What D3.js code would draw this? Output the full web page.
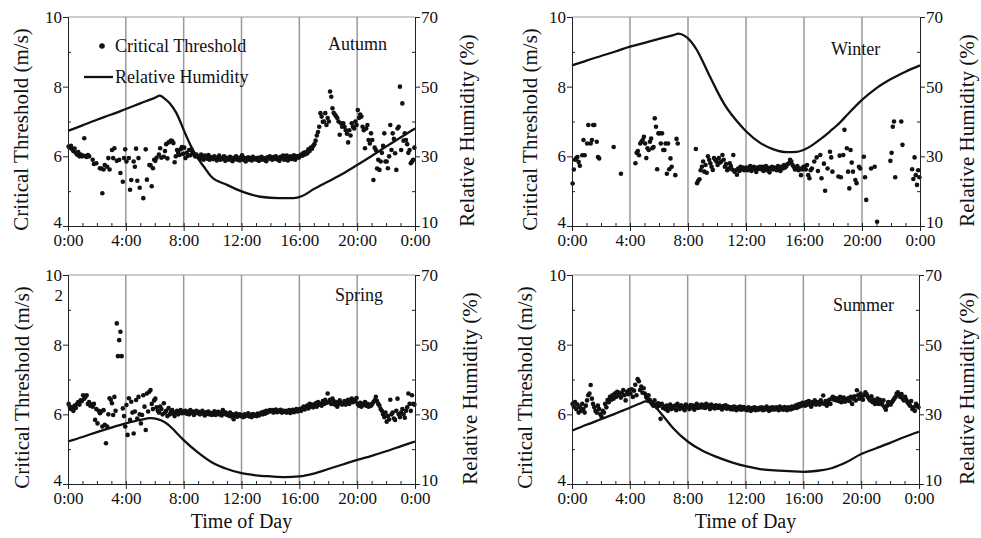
<!DOCTYPE html>
<html>
<head>
<meta charset="utf-8">
<script src="https://cdn.jsdelivr.net/npm/d3@7"></script>
<style>
body { margin: 0; background: #fff; }
svg text { font-family: "Liberation Serif", "Times New Roman", serif; fill: #111; }
</style>
</head>
<body>
<div id="chart"></div>
<script>
var width = 981,
  height = 538;

// critical threshold (m/s): one row per hour, values spread evenly over the hour, null = no sample
var autumnCT = [
  [6.28, 6.25, 6.3, 6.2, 6.15, 6.22, 6.1, 6.05, 6.12, 6.0, 6.05, 6.0],
  [6.02, 6.52, 6.0, 5.98, 6.04, 6.0, null, null, 5.9, 5.78, null, 5.8],
  [null, null, 5.66, 5.65, 4.94, 5.62, 5.75, null, 5.7, 5.95, 5.62, null],
  [6.18, 5.95, 6.23, null, 5.87, null, 5.9, 5.52, null, 5.27, 5.95, 6.2],
  [5.85, null, 5.95, 5.04, 5.32, null, 5.85, 5.7, 6.22, 5.3, 5.95, 5.1],
  [null, null, 4.8, null, 6.2, 5.33, null, 5.75, 5.74, 5.14, 5.66, 5.9],
  [5.87, 5.96, null, 6.05, 6.23, 5.96, null, 5.99, 6.15, 6.35, 5.94, 6.4],
  [6.42, 6.45, 6.44, 6.38, 5.83, 6.0, 6.18, 6.1, 6.04, 6.2, 6.27, 6.07],
  [6.25, 5.95, 6.1, 6.02, 6.18, 6.03, 6.2, 6.12, 6.07, 6.0, 6.05, 5.99],
  [6.0, 5.92, 6.05, 5.95, 5.9, 6.02, 5.97, 5.93, 6.04, 5.9, 5.98, 5.95],
  [5.92, 6.0, 5.95, 5.88, 5.97, 6.02, 5.9, 5.95, 5.93, 6.0, 5.87, 5.96],
  [5.94, 5.9, 5.99, 5.93, 5.86, 5.96, 5.92, 6.0, 5.9, 5.95, 5.88, 5.97],
  [6.03, 5.9, 5.95, 5.85, 5.93, 5.97, 5.9, 5.95, 5.88, 5.99, 5.92, 5.94],
  [5.9, 5.96, 5.87, 5.94, 5.99, 5.9, 5.95, 5.92, 5.86, 5.97, 5.93, 6.0],
  [5.94, 5.9, 5.98, 5.93, 6.0, 5.91, 5.96, 5.87, 5.99, 5.94, 6.02, 5.9],
  [5.97, 6.02, 5.88, 5.95, 6.0, 5.92, 5.97, 6.03, 5.9, 5.98, 6.01, 5.96],
  [6.0, 6.05, 6.02, 6.1, 6.05, 6.12, 6.08, 6.2, 6.15, 6.25, 6.22, 6.3],
  [6.35, 6.45, 6.6, 6.7, 6.85, 7.24, 7.14, 6.99, 7.0, 7.24, 6.9, 7.1],
  [7.0, 7.86, 7.71, 7.38, 7.25, 7.2, 7.15, 7.1, 7.0, 6.62, 6.95, 6.85],
  [6.95, 6.85, 6.75, 6.65, 6.4, 6.75, 6.6, 6.95, 6.85, 6.8, 7.0, 6.9],
  [7.33, 7.1, 7.2, 7.14, 6.85, 6.75, 6.23, 6.8, 6.9, 6.47, 6.37, 6.66],
  [6.47, 5.32, 6.25, 6.18, 5.65, 5.9, 5.61, 5.85, 6.1, 6.3, 6.66, 5.85],
  [5.85, 5.66, 6.0, 6.9, 6.18, 6.66, 6.5, 6.09, 5.61, 6.8, 6.85, 8.0],
  [6.18, 7.52, 6.45, 6.66, 6.47, 6.35, 6.1, 6.18, 5.8, 5.85, 5.9, 6.25]
];

var winterCT = [
  [5.22, 5.62, 5.9, 5.95, 5.98, 5.84, 5.73, null, 6.03, 6.47, 6.03, null],
  [6.37, 6.9, null, 6.37, 6.47, 6.9, 6.9, null, 6.42, 5.98, 5.94, null],
  [null, null, null, null, null, null, null, null, null, null, 6.27, null],
  [null, null, null, null, 5.5, null, null, null, null, null, null, null],
  [null, null, null, null, 5.8, 6.1, 6.15, 6.03, 6.37, 6.42, 6.47, 6.56],
  [6.37, 5.95, 6.23, 6.18, 6.42, 6.51, 6.23, 6.27, 7.09, 6.85, 5.63, 6.66],
  [6.66, 6.37, 6.66, 6.18, 6.18, 6.37, 5.5, 6.37, 5.63, 5.94, 5.7, null],
  [null, 5.46, 6.5, 6.37, null, null, null, null, null, null, null, null],
  [null, null, null, null, null, null, 6.21, 5.23, 5.3, 5.34, 5.6, 5.7],
  [5.85, 5.56, 5.75, 5.53, 6.0, 5.9, 5.8, 5.7, 5.61, 5.95, 5.9, 5.85],
  [5.75, 5.95, 5.82, 5.85, 6.04, 5.9, 5.7, 5.78, 5.6, 5.65, 5.8, 5.72],
  [5.62, 6.04, 5.56, 5.6, 5.47, 5.65, 5.58, 5.7, 5.62, 5.68, 5.6, 5.66],
  [5.68, 5.6, 5.66, 5.72, 5.58, 5.65, 5.7, 5.62, 5.55, 5.68, 5.64, 5.7],
  [5.63, 5.7, 5.58, 5.66, 5.72, 5.6, 5.67, 5.54, 5.65, 5.7, 5.62, 5.68],
  [5.66, 5.6, 5.72, 5.64, 5.58, 5.7, 5.65, 5.75, 5.68, 5.72, 5.78, 5.8],
  [5.9, 5.85, 5.75, 5.7, 5.62, 5.68, 5.72, 5.6, 5.65, 5.46, 5.62, 5.7],
  [5.7, 5.62, 5.75, 5.46, 5.37, 5.6, 5.65, null, 5.85, null, 5.97, 5.58],
  [null, 6.04, 5.37, null, 5.79, 5.01, null, 5.65, null, 6.13, 5.97, 5.56],
  [null, null, null, null, 5.42, 6.02, 5.4, null, 6.04, 6.76, null, 6.23],
  [5.56, 5.08, 6.18, 5.82, 5.56, null, 5.32, 5.23, null, 5.7, 5.65, null],
  [null, 5.99, 5.4, 4.75, null, null, null, 5.65, null, null, 5.7, null],
  [4.12, null, null, null, null, null, null, null, null, null, null, 5.87],
  [6.1, 6.85, 7.0, 5.4, null, null, null, null, 7.0, 6.33, null, null],
  [null, null, null, null, null, 5.63, 5.35, 5.97, 5.46, 5.18, 5.6, 5.4]
];

var springCT = [
  [6.3, 6.22, 6.15, 6.2, 6.1, 6.25, 6.18, 6.3, 6.35, 6.28, 6.4, 6.38],
  [6.55, 6.45, 6.5, 6.55, 6.3, 6.35, 6.25, 6.28, 6.22, 6.3, 5.84, 6.15],
  [5.74, 6.1, 6.03, 6.08, 5.65, 6.12, 5.7, 5.17, 5.65, 6.0, 6.46, 6.42],
  [6.32, 5.98, 6.5, 6.1, 8.61, 7.67, 8.13, 8.37, 7.67, 6.17, 5.95, 5.65],
  [6.27, 5.41, 6.46, 5.84, 6.36, 6.05, 5.45, 6.08, 6.41, 5.88, 6.5, 6.0],
  [5.74, 5.98, 6.55, 6.22, 5.55, 6.6, 6.08, 6.65, 6.7, 6.3, 6.15, 6.4],
  [6.45, 6.2, 6.1, 6.05, 6.22, 6.15, 6.0, 6.32, 6.05, 6.1, 5.95, 6.18],
  [6.0, 6.08, 6.12, 6.02, 5.95, 6.05, 6.1, 6.0, 6.06, 6.12, 6.03, 6.08],
  [6.05, 6.1, 6.02, 6.07, 6.0, 6.12, 6.04, 6.08, 5.98, 6.06, 6.1, 6.03],
  [6.07, 6.0, 6.04, 6.1, 6.02, 5.97, 6.06, 6.01, 6.08, 6.0, 6.04, 5.98],
  [6.03, 6.09, 5.98, 6.02, 6.07, 6.0, 6.05, 5.97, 6.12, 6.02, 6.06, 5.99],
  [6.02, 5.96, 6.05, 5.94, 6.0, 5.86, 5.96, 6.02, 5.93, 5.98, 6.0, 5.95],
  [5.97, 5.92, 6.0, 5.95, 5.98, 6.03, 5.94, 5.99, 5.92, 6.01, 5.96, 5.99],
  [5.95, 6.02, 5.97, 6.0, 6.05, 6.0, 6.07, 6.02, 6.1, 6.05, 6.08, 6.12],
  [6.08, 6.12, 6.05, 6.1, 6.14, 6.06, 6.11, 6.08, 6.13, 6.05, 6.1, 6.07],
  [6.1, 6.05, 6.08, 6.12, 6.04, 6.09, 6.13, 6.06, 6.1, 6.15, 6.08, 6.12],
  [6.15, 6.1, 6.18, 6.22, 6.14, 6.2, 6.25, 6.17, 6.3, 6.22, 6.28, 6.2],
  [6.25, 6.32, 6.22, 6.35, 6.28, 6.3, 6.25, 6.38, 6.3, 6.42, 6.33, 6.6],
  [6.35, 6.42, 6.3, 6.45, 6.38, 6.28, 6.35, 6.22, 6.3, 6.4, 6.33, 6.28],
  [6.32, 6.38, 6.28, 6.35, 6.42, 6.3, 6.4, 6.45, 6.35, 6.42, 6.38, 6.47],
  [6.3, 6.25, 6.33, 6.22, 6.3, 6.27, 6.35, 6.25, 6.3, 6.22, 6.28, 6.25],
  [6.3, 6.35, 6.4, 6.5, 6.38, 6.3, 6.25, 6.15, 6.1, 6.0, 5.92, 6.05],
  [5.79, 5.95, 5.85, 6.42, 6.0, 6.05, 5.88, 5.84, 6.1, 6.45, 6.0, 5.92],
  [6.05, 6.15, 6.0, 5.9, 6.1, 6.2, 6.6, 6.3, 6.1, 6.55, 6.3, 6.28]
];

var summerCT = [
  [6.3, 6.22, 6.35, 6.15, 6.28, 6.05, 6.2, 6.1, 6.3, 6.15, 6.05, 6.25],
  [6.4, 6.55, 6.6, 6.84, 6.45, 6.3, 6.2, 6.1, 6.05, 6.25, 6.15, 6.0],
  [5.93, 6.1, 6.05, 6.3, 6.2, 6.41, 6.35, 6.5, 6.42, 6.55, 6.45, 6.6],
  [6.5, 6.65, 6.55, 6.62, 6.48, 6.6, 6.7, 6.55, 6.4, 6.65, 6.58, 6.7],
  [6.6, 6.72, 6.5, 6.68, 6.85, 6.55, 7.01, 6.95, 6.7, 6.8, 6.62, 6.75],
  [6.6, 6.5, 6.45, 6.55, 6.42, 6.35, 6.3, 6.25, 6.4, 6.28, 6.2, 6.32],
  [6.25, 5.87, 6.3, 6.18, 6.22, 6.15, 6.25, 6.1, 6.2, 6.28, 6.15, 6.22],
  [6.18, 6.25, 6.12, 6.3, 6.2, 6.15, 6.26, 6.18, 6.22, 6.12, 6.28, 6.2],
  [6.22, 6.15, 6.27, 6.2, 6.25, 6.13, 6.24, 6.3, 6.18, 6.25, 6.2, 6.28],
  [6.2, 6.27, 6.18, 6.3, 6.22, 6.25, 6.15, 6.28, 6.2, 6.24, 6.17, 6.26],
  [6.22, 6.18, 6.25, 6.2, 6.14, 6.24, 6.19, 6.26, 6.16, 6.22, 6.2, 6.15],
  [6.2, 6.14, 6.22, 6.17, 6.12, 6.2, 6.15, 6.22, 6.13, 6.18, 6.21, 6.14],
  [6.17, 6.12, 6.2, 6.15, 6.1, 6.18, 6.14, 6.2, 6.12, 6.17, 6.13, 6.19],
  [6.15, 6.2, 6.12, 6.18, 6.14, 6.22, 6.16, 6.1, 6.19, 6.13, 6.2, 6.15],
  [6.14, 6.2, 6.16, 6.12, 6.22, 6.15, 6.19, 6.13, 6.21, 6.16, 6.12, 6.2],
  [6.18, 6.14, 6.22, 6.17, 6.2, 6.25, 6.18, 6.28, 6.22, 6.3, 6.25, 6.33],
  [6.3, 6.25, 6.35, 6.28, 6.38, 6.3, 6.22, 6.35, 6.3, 6.4, 6.28, 6.33],
  [6.35, 6.28, 6.4, 6.32, 6.54, 6.3, 6.38, 6.25, 6.35, 6.42, 6.3, 6.45],
  [6.5, 6.42, 6.47, 6.4, 6.45, 6.38, 6.5, 6.35, 6.42, 6.48, 6.36, 6.44],
  [6.4, 6.47, 6.38, 6.5, 6.3, 6.45, 6.52, 6.4, 6.69, 6.55, 6.45, 6.6],
  [6.5, 6.42, 6.55, 6.63, 6.58, 6.5, 6.45, 6.4, 6.52, 6.35, 6.42, 6.3],
  [6.38, 6.45, 6.3, 6.42, 6.35, 6.28, 6.4, 6.2, 6.13, 6.25, 6.35, 6.3],
  [6.28, 6.35, 6.4, 6.45, 6.5, 6.6, 6.63, 6.55, 6.5, 6.58, 6.45, 6.4],
  [6.5, 6.42, 6.35, 6.3, 6.25, 6.38, 6.15, 6.2, 6.1, 6.3, 6.25, 6.2]
];

// relative humidity (%): [hour, value]
var autumnRH = [[0,37.3],[1,38.9],[2,40.5],[3,42.0],[4,43.6],[5,45.2],[6,46.8],[6.35,47.4],[6.7,46.5],[7.05,45.2],[7.5,42.4],[8.1,36.6],[8.7,31.3],[9.4,27.0],[9.9,24.2],[11,21.8],[12.1,19.8],[13.3,18.4],[14.6,18.0],[15.6,18.0],[16.2,18.6],[17,20.6],[18,22.8],[19,25.0],[20,27.5],[21,30.1],[22,32.8],[23,35.4],[24,38.0]];
var winterRH = [[0,56.1],[1,57.5],[2,58.8],[3,60.1],[4,61.5],[5,62.6],[6,63.7],[7,64.8],[7.35,65.2],[7.8,64.5],[8.2,63.0],[8.6,60.6],[9,57.4],[9.5,53.0],[10,48.8],[10.5,45.0],[11,42.0],[11.6,39.0],[12,37.2],[13,33.8],[13.9,32.0],[14.8,31.2],[15.5,31.3],[16,31.9],[16.5,33.0],[17,34.5],[17.8,37.2],[18.5,39.8],[19,42.0],[20,46.2],[21,49.6],[22,52.2],[23,54.3],[24,56.1]];
var springRH = [[0,22.2],[1,23.5],[2,24.9],[3,26.2],[4,27.4],[5,28.4],[5.7,28.9],[6.2,28.6],[6.7,27.7],[7.2,26.0],[7.6,24.3],[8,22.6],[9,19.0],[10,16.1],[11,14.3],[12,13.1],[13,12.5],[14,12.2],[15,12.0],[16,12.2],[17,13.0],[18,14.3],[19,15.6],[20,16.9],[21,18.1],[22,19.4],[23,20.8],[24,22.2]];
var summerRH = [[0,25.3],[1,27.0],[2,28.6],[3,30.2],[4,31.9],[4.7,33.1],[5.1,33.7],[5.6,32.9],[6,31.0],[6.5,28.5],[7,26.0],[8,22.2],[9,19.6],[10,17.8],[11,16.3],[12,15.1],[13,14.3],[14,13.9],[15,13.7],[16,13.5],[17,13.8],[18,14.6],[19,16.3],[20,18.6],[21,20.2],[22,21.8],[23,23.5],[24,25.0]];

var timeTicks = [0, 4, 8, 12, 16, 20, 24];
var ctTicks = [4, 6, 8, 10];
var rhTicks = [10, 30, 50, 70];

var panels = [
  { name: "Autumn", ct: autumnCT, rh: autumnRH, left: 68, right: 415, top: 17, bottom: 226, ltx: 21, rtx: 467, lx: 328, ly: 50, legend: true },
  { name: "Winter", ct: winterCT, rh: winterRH, left: 572, right: 920, top: 17, bottom: 226, ltx: 530, rtx: 967, lx: 831, ly: 55 },
  { name: "Spring", ct: springCT, rh: springRH, left: 68, right: 415, top: 275, bottom: 484, ltx: 22, rtx: 470, lx: 335, ly: 301, xlabel: true, stray: true },
  { name: "Summer", ct: summerCT, rh: summerRH, left: 572, right: 919, top: 275, bottom: 484, ltx: 525, rtx: 967, lx: 833, ly: 311, xlabel: true }
];

var svg = d3.select("#chart").append("svg")
  .attr("width", width)
  .attr("height", height);

panels.forEach(drawPanel);

function drawPanel(p) {
  var x = d3.scaleLinear().domain([0, 24]).range([p.left, p.right]);
  var yL = d3.scaleLinear().domain([4, 10]).range([p.bottom, p.top]);
  var yR = d3.scaleLinear().domain([10, 70]).range([p.bottom, p.top]);
  var g = svg.append("g");

  // top frame line
  g.append("line")
    .attr("x1", p.left).attr("x2", p.right)
    .attr("y1", p.top).attr("y2", p.top)
    .attr("stroke", "#999").attr("stroke-width", 1);

  // vertical grid
  g.selectAll(".grid").data([4, 8, 12, 16, 20]).enter().append("line")
    .attr("x1", function (d) { return x(d); })
    .attr("x2", function (d) { return x(d); })
    .attr("y1", p.top).attr("y2", p.bottom)
    .attr("stroke", "#999").attr("stroke-width", 1.5);

  // scatter points
  var pts = [];
  p.ct.forEach(function (row, h) {
    row.forEach(function (v, i) {
      if (v != null) pts.push([h + (i + 0.5) / row.length, v]);
    });
  });
  g.selectAll(".pt").data(pts).enter().append("circle")
    .attr("cx", function (d) { return x(d[0]); })
    .attr("cy", function (d) { return yL(d[1]); })
    .attr("r", 2.3)
    .attr("fill", "#111");

  // RH line
  var line = d3.line()
    .x(function (d) { return x(d[0]); })
    .y(function (d) { return yR(d[1]); })
    .curve(d3.curveMonotoneX);
  g.append("path").datum(p.rh)
    .attr("d", line)
    .attr("fill", "none")
    .attr("stroke", "#111")
    .attr("stroke-width", 2.3);

  var fmt = function (d) { return (d % 24) + ":00"; };

  // axes
  var ax = g.append("g").attr("transform", "translate(0," + p.bottom + ")")
    .call(d3.axisBottom(x).tickValues(timeTicks).tickSize(5).tickPadding(3).tickFormat(fmt));
  var axm = g.append("g").attr("transform", "translate(0," + p.bottom + ")")
    .call(d3.axisBottom(x).tickValues(d3.range(1, 24)).tickSize(-3).tickFormat(""));
  var al = g.append("g").attr("transform", "translate(" + p.left + ",0)")
    .call(d3.axisLeft(yL).tickValues(ctTicks).tickSize(5).tickPadding(1).tickFormat(d3.format("d")));
  var alm = g.append("g").attr("transform", "translate(" + p.left + ",0)")
    .call(d3.axisLeft(yL).tickValues([5, 7, 9]).tickSize(-3).tickFormat(""));
  var ar = g.append("g").attr("transform", "translate(" + p.right + ",0)")
    .call(d3.axisRight(yR).tickValues(rhTicks).tickSize(5).tickPadding(1).tickFormat(d3.format("d")));
  var arm = g.append("g").attr("transform", "translate(" + p.right + ",0)")
    .call(d3.axisRight(yR).tickValues([20, 40, 60]).tickSize(-3).tickFormat(""));

  [axm, alm, arm].forEach(function (a) { a.select(".domain").remove(); });
  [ax, axm, al, alm, ar, arm].forEach(function (a) {
    a.selectAll("path, line").attr("stroke", "#222");
    a.selectAll("text").attr("font-size", 17).attr("fill", "#111")
      .style("font-family", "Liberation Serif");
  });
  // keep the bottom value labels clear of the first and last time labels
  ar.selectAll(".tick text").filter(function (d) { return d === 10; }).attr("dy", "0.1em");
  al.selectAll(".tick text").filter(function (d) { return d === 4; }).attr("dy", "0.1em");

  // axis titles
  g.append("text")
    .attr("transform", "translate(" + p.ltx + "," + ((p.top + p.bottom) / 2 + 8) + ")rotate(-90)")
    .attr("text-anchor", "middle").attr("dy", "0.35em")
    .attr("font-size", 21)
    .text("Critical Threshold (m/s)");
  g.append("text")
    .attr("transform", "translate(" + p.rtx + "," + ((p.top + p.bottom) / 2 + 9) + ")rotate(-90)")
    .attr("text-anchor", "middle").attr("dy", "0.35em")
    .attr("font-size", 21)
    .text("Relative Humidity (%)");

  if (p.xlabel) {
    g.append("text")
      .attr("x", x(12)).attr("y", 528)
      .attr("text-anchor", "middle")
      .attr("font-size", 20)
      .text("Time of Day");
  }

  // season label
  g.append("text")
    .attr("x", p.lx).attr("y", p.ly)
    .attr("font-size", 18)
    .text(p.name);

  if (p.stray) {
    g.append("text")
      .attr("x", p.left - 5).attr("y", yL(9.4))
      .attr("dy", "0.32em").attr("text-anchor", "end")
      .attr("font-size", 17)
      .text("2");
  }

  if (p.legend) {
    g.append("circle").attr("cx", 102).attr("cy", 46).attr("r", 2.8).attr("fill", "#111");
    g.append("text").attr("x", 115).attr("y", 52).attr("font-size", 18).text("Critical Threshold");
    g.append("line").attr("x1", 84).attr("x2", 113).attr("y1", 77).attr("y2", 77)
      .attr("stroke", "#111").attr("stroke-width", 2.3);
    g.append("text").attr("x", 115).attr("y", 83).attr("font-size", 18).text("Relative Humidity");
  }
}

d3.select(self.frameElement).style("height", height + "px");
</script>
</body>
</html>
